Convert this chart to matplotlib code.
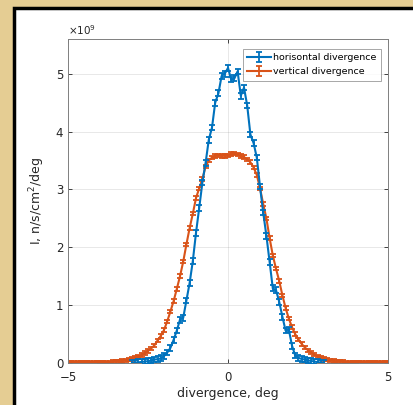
import numpy as np
import matplotlib
matplotlib.use("Agg")
import matplotlib.pyplot as plt
from matplotlib.patches import Rectangle

# divergencia vertical: -5..5 grados, paso 0.1 (unidades de 1e9)
x_vert = np.round(np.linspace(-5, 5, 101), 2)
i_vert = [
    0.000, 0.000, 0.000, 0.001, 0.001, 0.001, 0.002, 0.002, 0.003, 0.004,
    0.005, 0.007, 0.009, 0.012, 0.016, 0.021, 0.027, 0.035, 0.045, 0.057,
    0.072, 0.090, 0.112, 0.138, 0.170, 0.208, 0.252, 0.305, 0.39, 0.47,
    0.57, 0.72, 0.89, 1.07, 1.28, 1.50, 1.75, 2.05, 2.33, 2.58,
    2.85, 3.02, 3.18, 3.40, 3.50, 3.55, 3.58, 3.59, 3.58, 3.58,
    3.59,
    3.61, 3.62, 3.60, 3.58, 3.56, 3.52, 3.47, 3.38, 3.25, 3.02,
    2.75, 2.50, 2.16, 1.86, 1.63, 1.42, 1.17, 0.95, 0.77, 0.62,
    0.50, 0.41, 0.33, 0.27, 0.22, 0.18, 0.145, 0.115, 0.09, 0.072,
    0.057, 0.045, 0.035, 0.027, 0.021, 0.016, 0.012, 0.009, 0.007, 0.005,
    0.004, 0.003, 0.002, 0.002, 0.001, 0.001, 0.001, 0.000, 0.000, 0.000,
]
err_vert = 0.03

# divergencia horizontal: -3..3 grados, paso 0.1 (unidades de 1e9)
x_hor = np.round(np.linspace(-3, 3, 61), 2)
i_hor = [
    0.005, 0.008, 0.012, 0.018, 0.025, 0.030, 0.045, 0.060, 0.065, 0.080,
    0.12, 0.18, 0.26, 0.40, 0.56, 0.75, 0.78, 1.08, 1.38, 1.76,
    2.25, 2.68, 3.12, 3.46, 3.86, 4.07, 4.50, 4.66, 4.96, 5.00,
    5.10,
    4.90, 4.92, 5.04, 4.62, 4.76, 4.45, 3.95, 3.80, 3.55, 3.05,
    2.60, 2.20, 1.75, 1.29, 1.26, 1.06, 0.80, 0.56, 0.58, 0.30,
    0.13, 0.09, 0.07, 0.06, 0.045, 0.035, 0.025, 0.015, 0.008, 0.004,
]
err_hor = 0.05

blue = "#0072BD"
orange = "#D95319"
dark = "#262626"

fig = plt.figure(figsize=(4.13, 4.05), dpi=100)
fig.patch.set_facecolor("#E5CD93")

# panel blanco con borde negro (detras de los ejes)
fig.patches.append(Rectangle((14 / 413, -0.1), 1.2, 1 - 8 / 405 + 0.1,
                             transform=fig.transFigure, facecolor="white",
                             edgecolor="black", linewidth=2.5, zorder=-5))

ax = fig.add_axes([68 / 413, 1 - 363 / 405, 320 / 413, 324 / 405])
ax.set_zorder(2)
ax.set_facecolor("white")

ax.errorbar(x_hor, i_hor, yerr=err_hor, color=blue, lw=1.5, elinewidth=1.3,
            capsize=2.4, capthick=1.3, label="horisontal divergence", zorder=3)
ax.errorbar(x_vert, i_vert, yerr=err_vert, color=orange, lw=1.5, elinewidth=1.3,
            capsize=2.4, capthick=1.3, label="vertical divergence", zorder=2)

ax.set_xlim(-5, 5)
ax.set_ylim(0, 5.6)
ax.set_xticks([-5, 0, 5])
ax.set_yticks([0, 1, 2, 3, 4, 5])
ax.grid(True, color=dark, alpha=0.12, lw=0.6)
ax.tick_params(direction="in", length=3, width=0.6, colors=dark,
               labelsize=8.5, top=True, right=True)
ax.tick_params(axis="x", pad=6)
for s in ax.spines.values():
    s.set_color("#7f7f7f")
    s.set_linewidth(0.7)

ax.set_xlabel("divergence, deg", fontsize=9, color=dark, labelpad=2)
ax.set_ylabel("I, n/s/cm$^2$/deg", fontsize=9, color=dark, labelpad=6)
ax.text(0, 1.005, r"$\times 10^9$", transform=ax.transAxes, fontsize=7.5,
        color=dark, ha="left", va="bottom")

leg = ax.legend(loc="upper right", fontsize=6.8, frameon=True, fancybox=False,
                borderpad=0.45, labelspacing=0.55, handlelength=2.5,
                handletextpad=0.3, borderaxespad=0,
                bbox_to_anchor=(0.978, 0.969))
leg.get_frame().set_edgecolor("#7f7f7f")
leg.get_frame().set_linewidth(0.6)

plt.savefig("out.png", dpi=100)
plt.close()
